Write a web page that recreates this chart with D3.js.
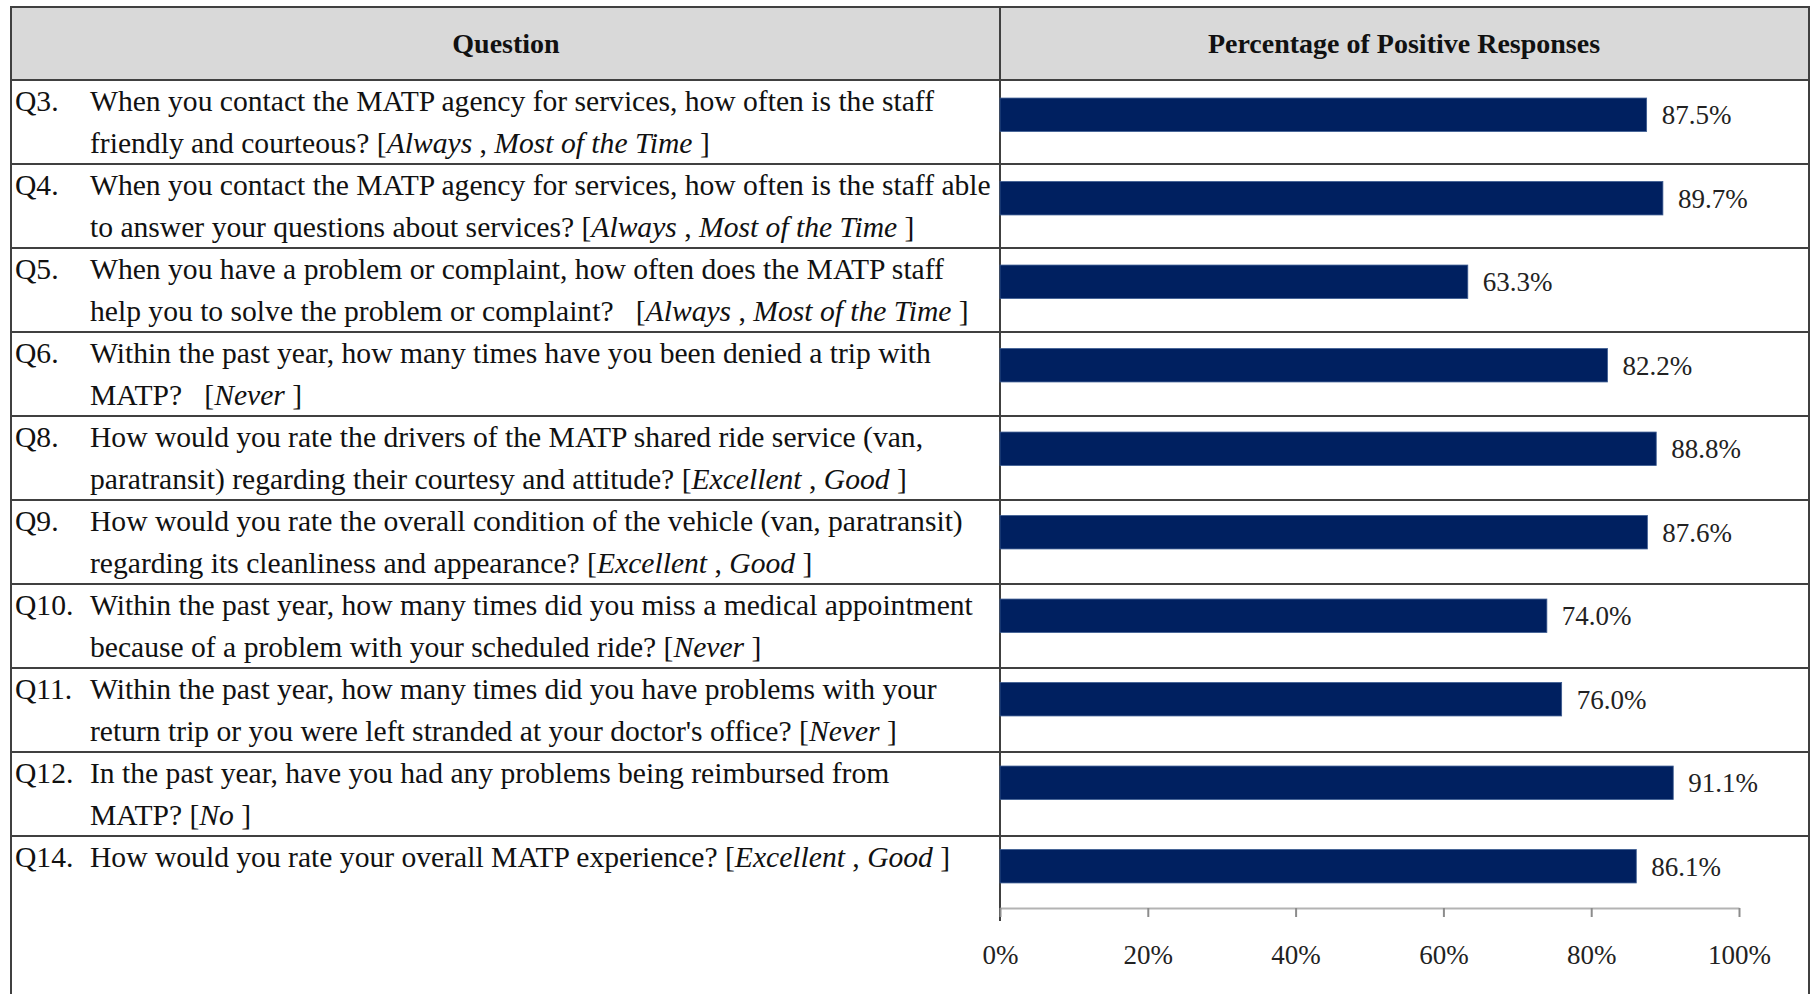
<!DOCTYPE html>
<html>
<head>
<meta charset="utf-8">
<script src="https://cdn.jsdelivr.net/npm/d3@7"></script>
<style>
    html, body { margin: 0; padding: 0; background: #fff; }
    svg { display: block; font-family: "Liberation Serif", "Times New Roman", serif; }
</style>
</head>
<body>
<div id="viz-body"></div>
<script>
/*----- Data -----*/

const codes = ["Q3.", "Q4.", "Q5.", "Q6.", "Q8.", "Q9.", "Q10.", "Q11.", "Q12.", "Q14."]

const questionLines = [
    ["When you contact the MATP agency for services, how often is the staff", "friendly and courteous? "],
    ["When you contact the MATP agency for services, how often is the staff able", "to answer your questions about services? "],
    ["When you have a problem or complaint, how often does the MATP staff", "help you to solve the problem or complaint?   "],
    ["Within the past year, how many times have you been denied a trip with", "MATP?   "],
    ["How would you rate the drivers of the MATP shared ride service (van,", "paratransit) regarding their courtesy and attitude? "],
    ["How would you rate the overall condition of the vehicle (van, paratransit)", "regarding its cleanliness and appearance? "],
    ["Within the past year, how many times did you miss a medical appointment", "because of a problem with your scheduled ride? "],
    ["Within the past year, how many times did you have problems with your", "return trip or you were left stranded at your doctor's office? "],
    ["In the past year, have you had any problems being reimbursed from", "MATP? "],
    ["How would you rate your overall MATP experience? "]
]

const answers = [
    ["Always", "Most of the Time"],
    ["Always", "Most of the Time"],
    ["Always", "Most of the Time"],
    ["Never"],
    ["Excellent", "Good"],
    ["Excellent", "Good"],
    ["Never"],
    ["Never"],
    ["No"],
    ["Excellent", "Good"]
]

const values = [87.5, 89.7, 63.3, 82.2, 88.8, 87.6, 74.0, 76.0, 91.1, 86.1]

const xTicks = [0, 20, 40, 60, 80, 100]
const headers = ["Question", "Percentage of Positive Responses"]

/*----- Layout -----*/

const width = 1815, height = 994
const tableLeft = 11, tableRight = 1809, tableTop = 7
const headerBottom = 80, rowHeight = 84
const divider = 1000
const axisY = 908
const lineColor = "#404040"

const svg = d3.select("#viz-body").append("svg")
    .attr("width", width)
    .attr("height", height)
    .attr("viewBox", [0, 0, width, height])

svg.append("rect")
    .attr("width", width)
    .attr("height", height)
    .attr("fill", "#fff")

// scales
const x = d3.scaleLinear()
    .domain([0, 100])
    .range([divider, 1739])

const y = d3.scaleBand()
    .domain(codes)
    .range([73, axisY])
    .paddingInner(0.6)
    .paddingOuter(0.3)

/*----- Table frame -----*/

// header band
svg.append("rect")
    .attr("x", tableLeft)
    .attr("y", tableTop)
    .attr("width", tableRight - tableLeft)
    .attr("height", headerBottom - tableTop)
    .attr("fill", "#d9d9d9")

const grid = svg.append("g")
    .attr("stroke", lineColor)
    .attr("stroke-width", 2)

grid.append("line")
    .attr("x1", tableLeft).attr("x2", tableRight)
    .attr("y1", tableTop).attr("y2", tableTop)

// row separators (header bottom + one under each row except the last)
grid.selectAll(".sep")
    .data(d3.range(codes.length))
    .join("line")
    .attr("class", "sep")
    .attr("x1", tableLeft).attr("x2", tableRight)
    .attr("y1", i => headerBottom + i * rowHeight)
    .attr("y2", i => headerBottom + i * rowHeight)

grid.append("line")
    .attr("x1", tableLeft).attr("x2", tableLeft)
    .attr("y1", tableTop - 1).attr("y2", height)
grid.append("line")
    .attr("x1", tableRight).attr("x2", tableRight)
    .attr("y1", tableTop - 1).attr("y2", height)
grid.append("line")
    .attr("x1", divider).attr("x2", divider)
    .attr("y1", tableTop).attr("y2", 921)

// header texts
svg.selectAll(".header")
    .data(headers)
    .join("text")
    .attr("class", "header")
    .attr("x", (d, i) => i === 0 ? 506 : 1404)
    .attr("y", 53)
    .attr("text-anchor", "middle")
    .attr("font-size", 28)
    .attr("font-weight", "bold")
    .attr("fill", "#111")
    .text(d => d)

/*----- Question column -----*/

const rows = svg.selectAll(".row")
    .data(codes)
    .join("g")
    .attr("class", "row")
    .attr("transform", (d, i) => `translate(0,${headerBottom + i * rowHeight})`)
    .attr("font-size", 29.6)
    .attr("fill", "#111")

rows.append("text")
    .attr("x", 15)
    .attr("y", 31)
    .text(d => d)

rows.each(function (code, i) {
    const g = d3.select(this)
    const lines = questionLines[i]
    lines.forEach((line, j) => {
        const t = g.append("text")
            .attr("x", 90)
            .attr("y", 31 + j * 41.5)
            .attr("xml:space", "preserve")
        t.append("tspan").text(line)
        // answer categories in brackets, on the last line
        if (j === lines.length - 1) {
            t.append("tspan").text("[")
            answers[i].forEach((a, k) => {
                if (k > 0) t.append("tspan").text(" , ")
                t.append("tspan").attr("font-style", "italic").text(a)
            })
            t.append("tspan").text(" ]")
        }
    })
})

/*----- Bars -----*/

svg.append("g")
    .selectAll("rect")
    .data(values)
    .join("rect")
    .attr("x", x(0))
    .attr("y", (d, i) => y(codes[i]))
    .attr("width", d => x(d) - x(0))
    .attr("height", y.bandwidth())
    .attr("fill", "#002060")
    .attr("stroke", "#3a5a90")
    .attr("stroke-width", 0.8)

svg.append("g")
    .selectAll("text")
    .data(values)
    .join("text")
    .attr("x", d => x(d) + 15)
    .attr("y", (d, i) => y(codes[i]) + y.bandwidth() / 2)
    .attr("dy", "0.35em")
    .attr("font-size", 27)
    .attr("fill", "#222")
    .text(d => d.toFixed(1) + "%")

/*----- Axis -----*/

const axis = svg.append("g")
    .attr("transform", `translate(0,${axisY})`)
    .call(d3.axisBottom(x)
        .tickValues(xTicks)
        .tickFormat(d => d + "%")
        .tickSize(9)
        .tickSizeOuter(0)
        .tickPadding(28))

axis.select(".domain").attr("stroke", "#b3b3b3").attr("stroke-width", 2)
axis.selectAll(".tick line").attr("stroke", "#8c8c8c").attr("stroke-width", 2)
axis.selectAll(".tick text")
    .attr("font-family", "Liberation Serif, serif")
    .attr("font-size", 27)
    .attr("fill", "#222")
</script>
</body>
</html>
